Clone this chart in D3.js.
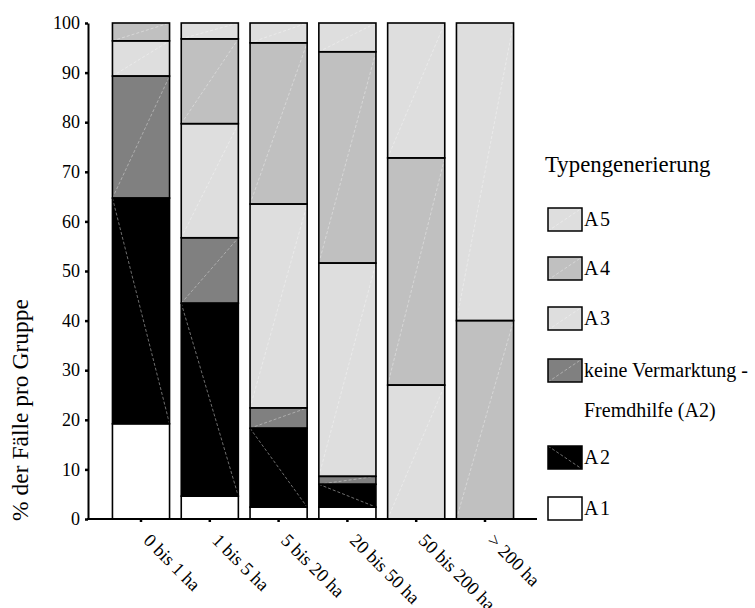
<!DOCTYPE html>
<html>
<head>
<meta charset="utf-8">
<script src="https://cdn.jsdelivr.net/npm/d3@7"></script>
<style>
  html, body { margin: 0; padding: 0; background: #fff; }
  svg { display: block; }
</style>
</head>
<body>
<svg id="chart" width="755" height="608"></svg>
<script>
// Farm size groups and the share (%) of each type per group, bottom to top
const categories = ["0 bis 1 ha", "1 bis 5 ha", "5 bis 20 ha", "20 bis 50 ha", "50 bis 200 ha", "> 200 ha"];
const seriesKeys = ["A1", "A2", "KV", "A3", "A4", "A5"];
const a1 = [19.2, 4.6, 2.4, 2.4, 0, 0];
const a2 = [45.5, 38.9, 15.9, 4.6, 0, 0];
const kv = [24.6, 13.2, 4.1, 1.6, 0, 0];
const a3 = [7.1, 23.0, 41.1, 43.0, 27.0, 0];
const a4 = [3.6, 17.1, 32.5, 42.6, 45.8, 40.0];
const a5 = [0, 3.2, 4.0, 5.8, 27.2, 60.0];
const yTicks = [0, 10, 20, 30, 40, 50, 60, 70, 80, 90, 100];

// Legend entries, top to bottom
const legendKeys = ["A5", "A4", "A3", "KV", "A2", "A1"];
const legendLabels = [["A5"], ["A4"], ["A3"], ["keine Vermarktung -", "Fremdhilfe (A2)"], ["A2"], ["A1"]];

const fills = { A1: "#ffffff", A2: "#000000", KV: "#808080", A3: "#dedede", A4: "#c0c0c0", A5: "#dedede" };
const FONT = "'Liberation Serif'";

const table = categories.map((c, i) => ({
  cat: c, A1: a1[i], A2: a2[i], KV: kv[i], A3: a3[i], A4: a4[i], A5: a5[i]
}));
const stacked = d3.stack().keys(seriesKeys)(table);

const svg = d3.select("#chart");

const y = d3.scaleLinear().domain([0, 100]).range([519, 23]);
const x = d3.scaleBand().domain(categories).range([106.6, 519.4])
  .paddingInner(0.17).paddingOuter(0.085);

// Bars: stacked segments
const g = svg.append("g");
stacked.forEach(layer => {
  const key = layer.key;
  layer.forEach((d, i) => {
    if (d[1] - d[0] <= 0) return;
    const x0 = x(categories[i]);
    const w = x.bandwidth();
    const yTop = y(d[1]), yBot = y(d[0]);
    g.append("rect")
      .attr("x", x0).attr("y", yTop)
      .attr("width", w).attr("height", yBot - yTop)
      .attr("fill", fills[key]);
    // faint rendering diagonal inside each segment
    if (key === "A2") {
      g.append("line")
        .attr("x1", x0).attr("y1", yTop).attr("x2", x0 + w).attr("y2", yBot)
        .attr("stroke", "#8a8a8a").attr("stroke-width", 0.8)
        .attr("stroke-dasharray", "3,2");
    } else if (key !== "A1") {
      g.append("line")
        .attr("x1", x0).attr("y1", yBot).attr("x2", x0 + w).attr("y2", yTop)
        .attr("stroke", "#ffffff").attr("stroke-opacity", 0.45).attr("stroke-width", 0.8)
        .attr("stroke-dasharray", "3,2");
    }
  });
});
// segment outlines on top
stacked.forEach(layer => {
  layer.forEach((d, i) => {
    if (d[1] - d[0] <= 0) return;
    g.append("rect")
      .attr("x", x(categories[i])).attr("y", y(d[1]))
      .attr("width", x.bandwidth()).attr("height", y(d[0]) - y(d[1]))
      .attr("fill", "none").attr("stroke", "#000").attr("stroke-width", 1.6);
  });
});

// Y axis
const yAxis = svg.append("g")
  .attr("transform", "translate(88,0)")
  .call(d3.axisLeft(y).tickValues(yTicks).tickSize(3).tickSizeOuter(0).tickPadding(5));
yAxis.attr("font-family", FONT).attr("font-size", 18);
yAxis.select(".domain").attr("stroke", "#000").attr("stroke-width", 2);
yAxis.selectAll(".tick line").attr("stroke", "#000").attr("stroke-width", 2.5);
yAxis.selectAll(".tick text")
  .attr("font-family", FONT).attr("font-size", 18).attr("fill", "#000");

// X axis (baseline drawn across the full plot width)
svg.append("line")
  .attr("x1", 87).attr("x2", 537).attr("y1", 519).attr("y2", 519)
  .attr("stroke", "#000").attr("stroke-width", 2);
const xAxis = svg.append("g")
  .attr("transform", "translate(0,519)")
  .call(d3.axisBottom(x).tickSize(3).tickSizeOuter(0));
xAxis.attr("font-family", FONT).attr("font-size", 18.5);
xAxis.select(".domain").remove();
xAxis.selectAll(".tick line").attr("stroke", "#000").attr("stroke-width", 2.5);
xAxis.selectAll(".tick text")
  .attr("font-family", FONT).attr("font-size", 18.5).attr("fill", "#000")
  .attr("text-anchor", "start")
  .attr("x", 0).attr("y", 0).attr("dy", "0.35em")
  .attr("transform", "translate(6,18) rotate(45)");

// Y axis title
svg.append("text")
  .attr("transform", "translate(28,410) rotate(-90)")
  .attr("text-anchor", "middle")
  .attr("font-family", FONT)
  .attr("font-size", 23.5).attr("fill", "#000")
  .text("% der Fälle pro Gruppe");

// Legend
svg.append("text")
  .attr("x", 545).attr("y", 172)
  .attr("font-family", FONT)
  .attr("font-size", 22.8).attr("fill", "#000")
  .text("Typengenerierung");

const legendY = [219, 268, 318, 370, 457, 508];
legendKeys.forEach((k, i) => {
  const cy = legendY[i];
  const bx = 548, by = cy - 11, bw = 34, bh = 23;
  svg.append("rect").attr("x", bx).attr("y", by).attr("width", bw).attr("height", bh)
    .attr("fill", fills[k]);
  if (k === "A2") {
    svg.append("line").attr("x1", bx).attr("y1", by).attr("x2", bx + bw).attr("y2", by + bh)
      .attr("stroke", "#8a8a8a").attr("stroke-width", 0.8).attr("stroke-dasharray", "3,2");
  } else if (k !== "A1") {
    svg.append("line").attr("x1", bx).attr("y1", by + bh).attr("x2", bx + bw).attr("y2", by)
      .attr("stroke", "#fff").attr("stroke-opacity", 0.45).attr("stroke-width", 0.8)
      .attr("stroke-dasharray", "3,2");
  }
  svg.append("rect").attr("x", bx).attr("y", by).attr("width", bw).attr("height", bh)
    .attr("fill", "none").attr("stroke", "#000").attr("stroke-width", 1.5);
  legendLabels[i].forEach((line, j) => {
    svg.append("text")
      .attr("x", 584).attr("y", cy + j * 40).attr("dy", "0.35em")
      .attr("font-family", FONT)
      .attr("font-size", 20).attr("fill", "#000")
      .attr("letter-spacing", line.length <= 2 ? 1.5 : 0)
      .text(line);
  });
});
</script>
</body>
</html>
